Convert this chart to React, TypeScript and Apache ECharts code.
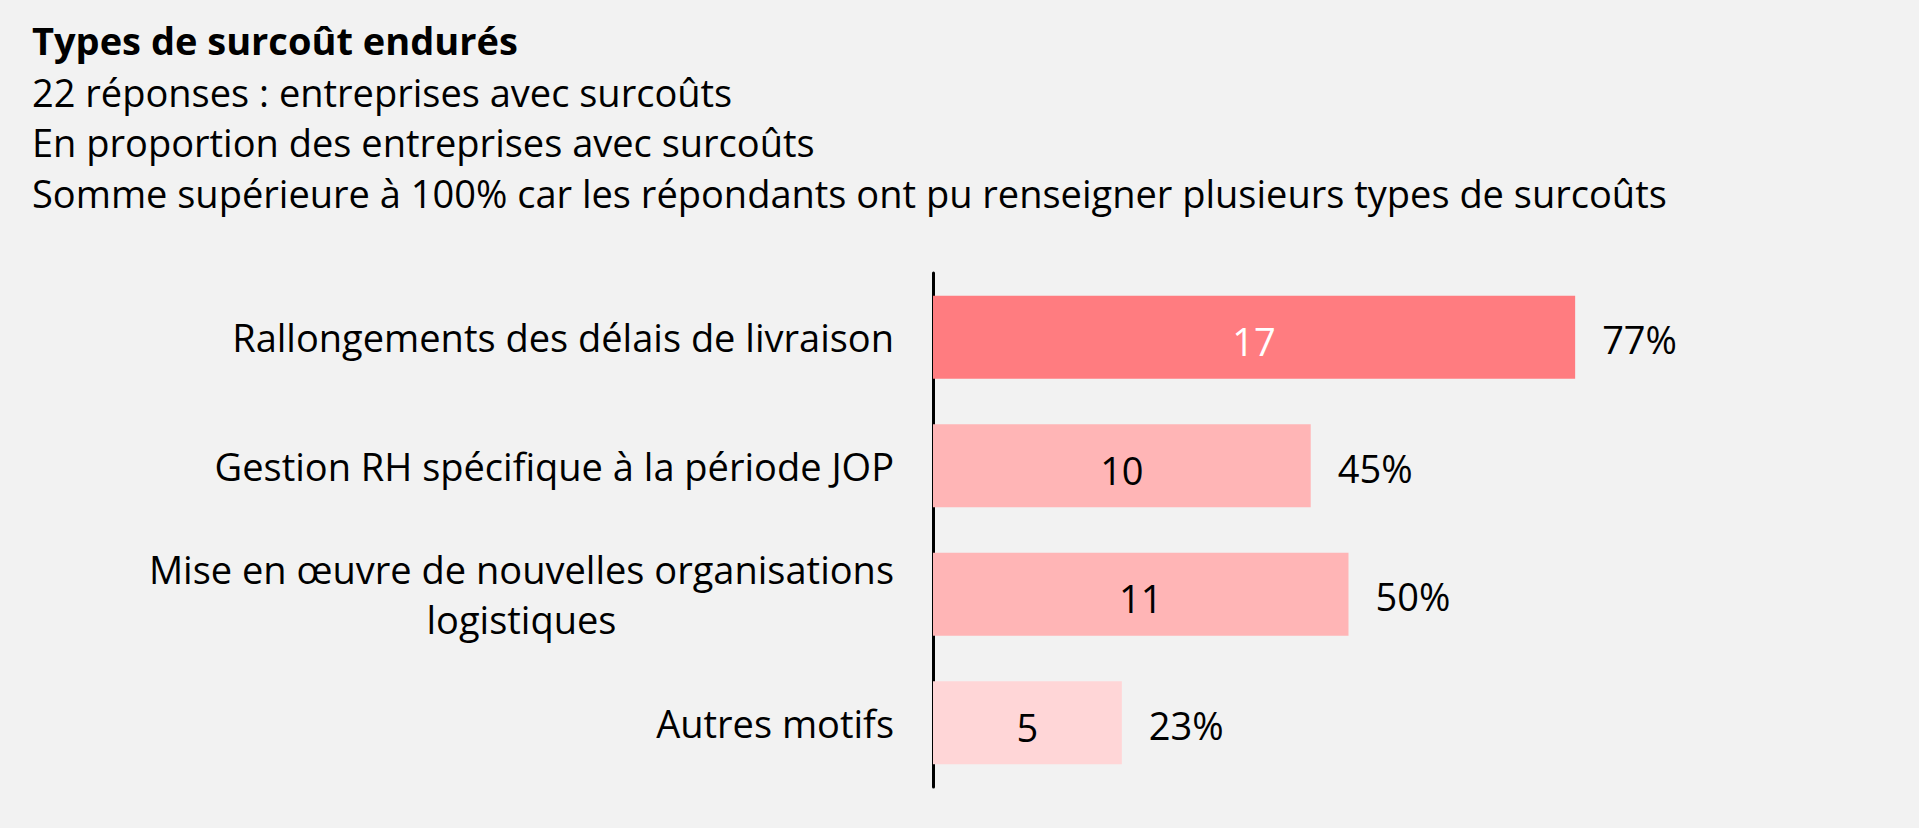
import React, { useEffect, useRef } from "react";
import * as echarts from "echarts";

const titleText = "Types de surcoût endurés";
const subtitleLines = [
  "22 réponses : entreprises avec surcoûts",
  "En proportion des entreprises avec surcoûts",
  "Somme supérieure à 100% car les répondants ont pu renseigner plusieurs types de surcoûts",
];
const categories = [
  "Rallongements des délais de livraison",
  "Gestion RH spécifique à la période JOP",
  "Mise en œuvre de nouvelles organisations\nlogistiques",
  "Autres motifs",
];
const counts = [17, 10, 11, 5];
const percents = [77, 45, 50, 23];
const barColors = ["#FF7C80", "#FFB5B6", "#FFB5B6", "#FFD6D7"];
const countLabelColors = ["#FFFFFF", "#000000", "#000000", "#000000"];
const totalResponses = 22;

const FONT = '"Open Sans", "Noto Sans", sans-serif';

export default function App() {
  const ref = useRef<HTMLDivElement>(null);

  useEffect(() => {
    document.body.style.margin = "0";
    if (!ref.current) return;
    const chart = echarts.init(ref.current, null, { renderer: "svg" });

    const headerLines = [titleText, ...subtitleLines];
    const headerY = [40, 91.7, 142.3, 193];

    chart.setOption({
      animation: false,
      backgroundColor: "#F2F2F2",
      graphic: headerLines.map((t, i) => ({
        type: "text",
        x: 32,
        y: headerY[i],
        silent: true,
        style: {
          text: t,
          fill: "#000000",
          fontFamily: FONT,
          fontSize: 38,
          fontWeight: i === 0 ? "bold" : "normal",
          verticalAlign: "middle",
          align: "left",
        },
      })),
      grid: { left: 933, right: 155, top: 273, bottom: 41, containLabel: false },
      xAxis: {
        type: "value",
        min: 0,
        max: totalResponses,
        show: false,
        splitLine: { show: false },
      },
      yAxis: {
        type: "category",
        inverse: true,
        data: categories,
        axisTick: { show: false },
        axisLine: { show: true, lineStyle: { color: "#000000", width: 3 } },
        axisLabel: {
          interval: 0,
          margin: 39,
          align: "right",
          color: "#000000",
          fontFamily: FONT,
          fontSize: 38,
          lineHeight: 50,
          formatter: (v: string) =>
            v
              .split("\n")
              .map((l) => `{c|${l}}`)
              .join("\n"),
          rich: {
            c: {
              align: "center",
              color: "#000000",
              fontFamily: FONT,
              fontSize: 38,
              lineHeight: 50,
            },
          },
        },
        splitLine: { show: false },
      },
      series: [
        {
          type: "bar",
          barWidth: 83,
          data: counts.map((v, i) => ({
            value: v,
            itemStyle: { color: barColors[i] },
            label: { color: countLabelColors[i] },
          })),
          label: {
            show: true,
            position: "inside",
            offset: [0, 4],
            fontFamily: FONT,
            fontSize: 38,
          },
          z: 2,
        },
        {
          type: "bar",
          barWidth: 83,
          barGap: "-100%",
          silent: true,
          data: counts,
          itemStyle: { color: "rgba(0,0,0,0)" },
          label: {
            show: true,
            position: "right",
            distance: 27,
            offset: [0, 2],
            color: "#000000",
            fontFamily: FONT,
            fontSize: 38,
            formatter: (p: any) => `${percents[p.dataIndex]}%`,
          },
          z: 3,
        },
      ],
    });

    const onResize = () => chart.resize();
    window.addEventListener("resize", onResize);
    return () => {
      window.removeEventListener("resize", onResize);
      chart.dispose();
    };
  }, []);

  return (
    <div
      ref={ref}
      style={{ position: "fixed", left: 0, top: 0, width: "100vw", height: "100vh" }}
    />
  );
}
